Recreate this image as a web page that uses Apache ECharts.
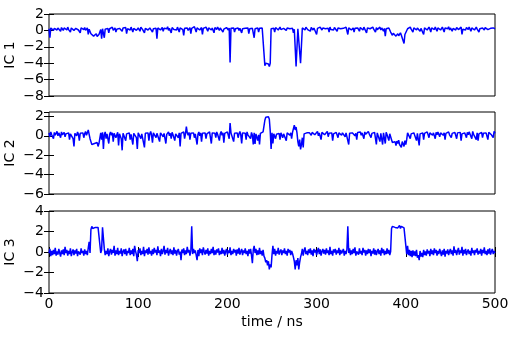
<!DOCTYPE html>
<html><head><meta charset="utf-8">
<script src="https://cdn.jsdelivr.net/npm/echarts@6/dist/echarts.min.js"></script>
<style>html,body{margin:0;padding:0;background:#fff}#c{width:514px;height:337px}</style>
</head><body><div id="c"></div>
<script>
// sample times (ns), one value per ns from 0 to 500
const timeStart = 0, timeStep = 1;
const xTicks = [0, 100, 200, 300, 400, 500];
const panelNames = ["IC 1", "IC 2", "IC 3"];
const yRanges = [[-8, 2], [-6, 2.45], [-4, 4]];

const ic1 = [
0.2,-0.9,0.3,0.1,0.35,0.0,0.25,0.15,0.4,0.05,
0.3,0.1,0.2,-0.1,0.35,0.2,0.0,0.3,0.15,0.25,
0.05,0.4,0.1,0.2,-0.2,0.3,0.15,0.35,0.0,0.2,
0.25,0.1,0.4,0.05,0.2,-0.3,0.3,0.15,0.25,0.1,
0.35,0.0,0.2,0.3,-0.5,0.15,0.2,-0.4,-0.6,-0.45,
-0.7,-0.5,-0.6,-0.4,-0.75,-0.55,-0.5,-0.65,0.1,-1.0,
0.2,0.3,-0.9,0.15,0.35,0.05,0.25,-0.3,0.2,0.3,
0.1,0.4,0.0,0.2,0.3,-0.2,0.15,0.35,0.05,0.25,
0.2,0.4,-0.1,0.3,0.1,0.25,0.35,-0.4,0.2,0.15,
0.3,0.05,0.4,0.2,-0.2,0.25,0.1,0.35,0.0,0.2,
0.3,0.15,-0.1,0.4,0.2,0.1,0.3,-0.3,0.25,0.15,
0.35,0.05,0.2,0.3,0.1,0.4,-0.2,0.2,0.3,0.1,
0.25,-1.0,0.3,0.15,0.4,0.05,0.2,0.35,-0.1,0.25,
0.1,0.3,0.2,0.45,0.0,0.25,0.15,-0.3,0.35,0.2,
0.1,0.3,0.25,0.05,0.4,0.2,-0.2,0.3,0.15,0.35,
0.1,-0.6,0.25,0.4,0.15,0.3,0.0,0.2,0.35,-0.4,
0.25,0.1,0.3,0.45,0.15,-0.2,0.3,0.2,0.4,0.05,
0.2,0.35,-0.5,0.25,0.1,0.3,0.4,0.15,-0.1,0.3,
0.2,0.4,0.05,0.3,0.15,-0.3,0.35,0.2,0.1,0.4,
0.25,0.0,0.3,0.2,0.45,-0.2,0.15,0.3,0.1,0.35,
0.2,0.05,0.3,-3.9,0.25,0.4,0.1,0.3,-0.2,0.2,
0.35,0.15,0.3,0.0,0.25,0.4,-0.3,0.2,0.3,0.1,
0.25,0.4,0.05,0.3,-0.4,0.2,0.35,0.1,0.25,0.3,
-0.9,0.2,0.35,0.1,0.3,-0.2,0.25,0.4,0.05,0.3,
0.2,0.35,-4.3,-4.0,-4.2,-3.9,-4.1,-4.4,-4.0,0.2,
0.3,0.1,0.25,-0.2,0.35,0.15,0.3,0.05,0.2,0.4,
0.1,0.3,-0.1,0.25,0.2,0.35,0.0,0.3,0.15,0.4,
0.2,0.05,0.3,0.25,-0.3,0.15,0.3,-4.4,-4.2,0.2,
0.35,0.1,-4.0,-3.9,0.3,0.15,0.25,0.05,0.4,0.2,
0.1,0.3,0.25,-0.1,0.35,0.2,0.05,0.3,0.4,0.15,
-0.5,0.25,0.3,0.1,0.4,0.2,0.05,0.3,0.15,0.35,
0.2,0.0,0.3,0.25,-0.2,0.4,0.1,0.3,0.2,0.05,
0.35,0.15,0.25,-0.1,0.3,0.45,0.1,0.2,0.35,0.0,
0.25,0.3,0.1,0.4,0.2,-0.5,0.3,0.15,0.35,0.05,
0.2,0.3,-0.2,0.25,0.4,0.1,0.3,0.2,-0.1,0.35,
0.15,0.3,0.05,0.4,0.2,0.25,-0.3,0.3,0.1,0.35,
0.2,0.0,0.3,0.4,0.15,0.25,-0.2,0.35,0.1,0.3,
0.2,0.4,0.05,0.3,0.15,-0.1,0.25,-0.7,0.2,0.35,
0.1,0.3,0.2,-0.2,-0.4,-0.6,-0.35,-0.55,-0.45,-0.7,
-0.5,-0.4,-0.65,-0.55,-0.3,-0.6,-0.5,-0.45,-1.6,-0.5,
-0.35,-0.55,0.2,0.3,0.1,0.4,0.15,0.25,-0.2,0.3,
0.2,0.4,0.05,0.3,0.15,0.35,-0.1,0.25,0.4,0.1,
-0.5,0.3,0.2,0.35,0.05,0.25,0.4,0.15,-0.2,0.3,
0.2,0.35,0.1,0.4,0.25,-0.1,0.3,0.15,0.35,0.05,
0.25,0.4,0.2,-0.2,0.3,0.1,0.35,0.2,0.45,0.05,
0.3,0.15,-0.1,0.25,0.4,0.2,0.05,0.35,0.25,0.1,
0.3,0.2,0.4,-0.5,0.15,0.3,0.25,0.05,0.35,0.2,
0.1,0.4,0.25,-0.1,0.3,0.2,0.35,0.05,0.25,0.4,
0.15,0.3,-0.2,0.2,0.4,0.1,0.3,0.25,0.05,0.35,
0.2,0.4,0.1,0.3,-0.1,0.25,0.35,0.15,0.3,0.4,
0.2];

const ic2 = [
0.3,-0.1,0.4,0.1,0.25,-0.3,0.35,0.05,0.2,0.45,
0.0,0.3,0.15,-0.2,0.4,0.1,0.25,0.35,-0.1,0.2,
0.4,0.05,0.3,-0.4,0.2,0.35,0.1,-0.3,-1.1,0.25,
0.3,0.0,0.4,0.15,-0.5,0.25,0.35,0.1,0.3,-0.2,
0.2,0.45,0.05,0.3,0.6,0.15,-0.3,-0.6,-0.9,-0.7,
-1.0,-0.8,-0.65,-0.95,-0.7,-1.1,-0.8,-0.6,0.3,-0.4,
0.35,-1.35,0.1,0.4,-0.3,0.2,0.3,-0.8,0.15,0.4,
0.05,0.3,-0.6,0.25,0.45,-0.2,0.1,0.35,-1.0,0.2,
0.4,-0.3,-1.5,0.25,0.1,0.35,-0.5,0.2,0.4,0.0,
0.3,-0.4,0.15,0.35,-0.9,0.25,0.1,0.4,-0.2,-1.35,
0.3,0.15,0.4,-0.3,0.2,0.35,0.0,-1.2,0.25,0.4,
0.1,0.3,-0.5,0.2,0.45,0.05,-0.7,0.3,0.15,0.35,
-0.2,0.25,0.4,0.1,-0.6,0.3,0.2,0.45,-0.1,0.25,
0.35,-0.8,0.15,0.3,0.4,0.0,0.25,-0.3,0.35,0.1,
0.3,-0.5,0.2,0.4,0.05,-0.2,0.3,-1.1,0.25,0.35,
0.1,0.4,-0.3,0.2,0.95,0.3,0.05,0.35,-0.4,0.25,
0.4,0.1,0.3,-0.2,0.2,0.35,-0.9,0.15,0.4,0.0,
0.3,-0.6,0.25,0.45,0.1,0.3,-0.3,0.2,0.35,0.05,
0.4,0.2,-0.8,0.3,0.1,0.35,0.25,-0.2,0.4,0.15,
0.3,-0.5,0.2,0.45,0.05,0.3,-0.7,0.25,0.35,0.1,
0.4,0.2,-0.3,1.3,0.3,0.15,0.35,-0.6,0.25,0.4,
0.05,0.3,-0.2,0.2,0.45,0.1,-0.8,0.3,0.35,0.15,
0.25,-0.4,0.4,0.1,0.3,0.2,-0.3,0.35,0.05,-0.9,
0.3,-0.85,0.2,0.4,-0.5,0.1,-0.9,0.25,0.35,0.15,
0.4,0.6,1.6,1.9,2.0,1.75,1.95,1.7,0.5,-1.35,
0.3,-0.8,0.2,0.4,-0.3,0.15,0.35,0.0,0.25,-0.4,
0.3,0.45,-0.2,0.2,0.35,0.1,-0.5,0.3,0.25,0.4,
0.05,0.3,-0.3,0.35,0.2,1.1,0.6,0.9,0.3,-0.6,
-1.1,-0.4,-1.4,-0.9,-0.2,-1.2,0.2,0.35,0.1,0.3,
0.4,0.15,0.3,0.45,0.05,0.35,0.2,0.4,0.1,0.3,
0.25,0.45,0.0,0.3,0.2,-0.4,0.35,0.15,0.4,0.1,
0.3,0.2,0.45,-0.1,0.25,0.35,0.05,0.3,-0.5,0.2,
0.4,0.1,0.35,0.25,-0.2,0.3,0.15,0.45,0.05,0.3,
0.2,0.4,-0.1,0.3,0.15,0.35,-0.9,0.25,0.4,0.1,
0.3,0.2,0.45,0.0,0.25,-0.4,0.35,0.15,0.3,0.4,
0.05,0.3,0.2,-0.3,0.4,0.15,0.35,0.1,0.45,0.2,
0.3,-0.2,0.25,0.4,0.1,0.35,0.2,-0.9,0.3,0.15,
0.4,-0.6,0.25,0.05,-0.9,0.3,0.2,-0.8,0.35,0.1,
0.3,-0.5,0.2,0.4,-0.4,-0.7,-0.5,-0.9,-0.6,-1.0,
-0.55,-0.8,-0.45,-0.9,-0.7,-1.2,-0.6,-0.85,-1.1,-0.5,
-0.9,-0.4,0.3,0.1,0.4,-0.3,0.2,0.35,0.05,0.3,
0.4,0.15,-0.5,0.25,0.35,-1.0,0.2,0.4,0.05,0.3,
-0.4,0.25,0.35,0.1,0.4,0.2,-0.2,0.3,0.15,0.45,
0.05,0.3,0.2,-0.3,0.35,0.1,0.4,0.25,-0.1,0.3,
0.2,0.4,0.05,0.3,-0.4,0.25,0.35,0.15,0.4,0.1,
0.3,-0.2,0.25,0.45,0.1,0.35,0.2,-0.3,0.3,0.4,
0.15,0.35,-0.5,0.2,0.4,0.05,0.3,0.25,-0.2,0.35,
0.1,0.4,0.2,0.3,-0.3,0.45,0.15,0.25,0.35,-0.4,
0.3,-0.5,0.2,0.4,0.1,0.35,-0.2,0.25,0.45,0.05,
0.3,0.2,-0.4,0.35,0.15,0.4,0.1,0.3,-0.2,0.45,
0.25];

const ic3 = [
-0.1,0.3,-0.4,0.1,-0.3,0.2,-0.2,0.4,-0.35,0.05,
-0.25,0.3,-0.1,-0.45,0.15,-0.2,0.25,-0.3,0.5,-0.1,
0.2,-0.35,0.1,-0.2,0.35,-0.4,0.0,0.25,-0.3,0.15,
-0.15,0.3,-0.4,0.05,0.2,-0.25,0.35,-0.1,0.1,-0.35,
0.25,-0.2,0.1,-0.3,0.4,1.0,-0.1,2.2,2.5,2.3,
2.45,2.2,2.4,2.55,2.3,2.4,2.25,2.5,-0.1,0.2,
2.4,2.5,0.3,-0.3,0.1,-0.2,0.35,-0.4,0.05,0.3,
-0.25,0.2,-0.1,0.6,-0.35,0.15,-0.2,0.4,-0.3,0.1,
-0.15,0.35,-0.4,0.05,0.25,-0.2,0.3,-0.35,0.1,-0.1,
0.4,-0.3,0.15,-0.2,0.3,-0.4,0.6,0.1,-0.25,-0.9,
0.2,-0.1,0.35,-0.3,0.1,-0.2,0.5,-0.4,0.15,-0.1,
0.3,-0.25,0.45,-0.15,0.1,-0.35,0.25,-0.2,0.4,-0.05,
0.2,-0.3,0.55,-0.1,0.15,-0.4,0.3,-0.2,0.1,0.6,
-0.25,0.2,-0.1,0.4,-0.35,0.05,0.3,-0.2,0.15,-0.3,
0.45,-0.15,0.2,-0.35,0.1,0.3,-0.25,0.05,-0.8,0.25,
-0.1,0.35,-0.3,0.15,-0.2,0.5,-0.05,0.2,-0.35,0.1,
2.5,-0.2,0.3,-0.1,0.15,-0.3,-0.8,0.2,-0.4,0.35,
-0.1,0.25,-0.3,0.45,0.05,-0.25,0.2,-0.15,0.35,-0.35,
0.1,-0.2,0.3,-0.1,0.5,-0.3,0.15,-0.25,0.25,-0.05,
0.35,-0.3,0.1,-0.2,0.4,-0.15,0.2,-0.35,0.05,0.3,
-0.25,0.15,-0.1,0.45,-0.3,0.1,-0.2,0.3,-0.05,0.2,
-0.35,0.25,-0.15,0.4,-0.25,0.05,0.3,-0.3,0.15,-0.1,
0.35,-0.2,0.1,-0.4,0.25,-0.15,0.3,-0.3,-1.1,0.2,
0.6,-0.1,0.3,-0.3,0.15,-0.25,0.4,-0.2,0.1,-0.35,
0.2,-0.4,-0.6,-1.0,-0.8,-1.3,-0.9,-1.7,-1.2,-1.5,
-0.3,0.6,-0.2,0.3,-0.35,0.1,-0.15,0.4,-0.25,0.05,
0.25,-0.3,0.15,-0.1,0.35,-0.2,0.1,-0.35,0.3,-0.05,
0.2,-0.3,0.1,-0.15,-0.5,-0.9,-1.7,-0.8,-1.3,-0.6,
-1.7,-1.0,-0.5,-0.2,0.3,-0.35,0.15,0.45,-0.2,0.1,
-0.3,0.25,-0.1,0.35,-0.25,0.15,-0.4,0.3,-0.05,0.2,
-0.3,0.1,0.4,-0.2,0.25,-0.35,0.05,0.3,-0.15,0.2,
-0.25,0.35,-0.1,0.15,-0.3,0.5,-0.2,0.1,-0.35,0.25,
-0.05,0.3,-0.25,0.15,-0.1,0.4,-0.3,0.2,-0.15,0.05,
0.3,-0.35,0.1,-0.2,0.25,2.5,-0.1,0.35,-0.3,0.15,
-0.2,0.3,-0.1,0.45,-0.35,0.05,0.2,-0.25,0.35,-0.15,
0.1,-0.3,0.4,-0.05,0.2,-0.35,0.15,-0.2,0.3,-0.1,
0.25,-0.4,0.1,-0.15,0.35,-0.25,0.2,-0.3,0.05,0.3,
-0.2,0.15,-0.35,0.4,-0.1,0.25,-0.3,0.1,-0.2,0.35,
-0.15,0.2,-0.3,0.05,2.3,2.5,2.35,2.55,2.4,2.3,
2.5,2.35,2.45,2.6,2.3,2.5,2.4,2.55,2.35,2.45,
2.3,-0.2,0.6,-0.3,0.2,-0.4,0.1,-0.5,0.15,-0.35,
0.05,-0.4,0.2,-0.55,-0.3,-0.8,0.1,-0.45,-0.1,-0.5,
0.2,-0.3,0.05,-0.35,0.25,-0.15,0.1,-0.4,0.3,-0.2,
0.15,-0.3,0.35,-0.1,0.2,-0.35,0.1,-0.2,0.3,-0.05,
-0.4,0.15,-0.25,0.3,-0.45,0.1,-0.15,0.25,-0.3,0.05,
0.3,-0.2,0.15,-0.35,0.55,-0.1,0.2,-0.3,0.1,0.4,
-0.25,0.15,-0.1,0.5,-0.35,0.2,-0.15,0.3,-0.3,0.05,
0.25,-0.2,0.1,-0.35,0.4,-0.1,0.15,-0.3,0.2,-0.05,
0.35,-0.25,0.1,-0.15,0.3,-0.35,0.2,-0.1,0.45,-0.2,
0.1,-0.3,0.25,-0.15,0.35,-0.25,0.05,0.3,-0.2,0.1,
-0.1];

const series = [ic1, ic2, ic3];
const FONT = "DejaVu Sans";
const fmt = v => (Math.abs(v / 2 - Math.round(v / 2)) < 1e-9) ? String(v).replace('-', '\u2212') : '';

const tops = [14, 112, 211];
const grids = tops.map(t => ({left: 49, width: 446, top: t, height: 82, outerBoundsMode: 'none', containLabel: false,
  show: true, borderColor: '#000', borderWidth: 1, backgroundColor: 'transparent'}));

const xAxes = [], yAxes = [], ser = [];
for (let g = 0; g < 3; g++) {
  const last = g === 2;
  const baseX = {type: 'value', gridIndex: g, min: 0, max: 500, interval: 100,
    axisLine: {show: false}, splitLine: {show: false},
    axisTick: {show: last, inside: true, length: 5, lineStyle: {color: '#000'}},
    axisLabel: {show: false}};
  xAxes.push(Object.assign({}, baseX, {position: 'bottom',
    axisLabel: {show: last, color: '#000', fontFamily: FONT, fontSize: 14, margin: 4,
      formatter: v => xTicks.includes(v) ? String(v) : ''},
    name: last ? 'time / ns' : '', nameLocation: 'middle', nameGap: 22, nameMoveOverlap: false,
    nameTextStyle: {color: '#000', fontFamily: FONT, fontSize: 14}}));
  xAxes.push(Object.assign({}, baseX, {position: 'top'}));
  const [mn, mx] = yRanges[g];
  const baseY = {type: 'value', gridIndex: g, min: mn, max: mx, interval: 2,
    axisLine: {show: false}, splitLine: {show: false},
    axisTick: {show: true, inside: true, length: 5, lineStyle: {color: '#000'}},
    axisLabel: {show: false}};
  yAxes.push(Object.assign({}, baseY, {position: 'left',
    axisLabel: {show: true, color: '#000', fontFamily: FONT, fontSize: 14, margin: 5, formatter: fmt, showMaxLabel: mx % 2 === 0},
    name: panelNames[g], nameLocation: 'middle', nameGap: 32, nameRotate: 90, nameMoveOverlap: false,
    nameTextStyle: {color: '#000', fontFamily: FONT, fontSize: 14}}));
  yAxes.push(Object.assign({}, baseY, {position: 'right'}));
  ser.push({type: 'line', xAxisIndex: g * 2, yAxisIndex: g * 2,
    data: series[g].map((v, i) => [timeStart + i * timeStep, v]),
    showSymbol: false, symbol: 'none', sampling: null, clip: true,
    lineStyle: {color: '#0000ff', width: 1.5}, itemStyle: {color: '#0000ff'}});
}

const chart = echarts.init(document.getElementById('c'), null, {renderer: 'canvas'});
chart.setOption({animation: false, backgroundColor: '#fff', grid: grids, xAxis: xAxes, yAxis: yAxes, series: ser});
</script></body></html>
